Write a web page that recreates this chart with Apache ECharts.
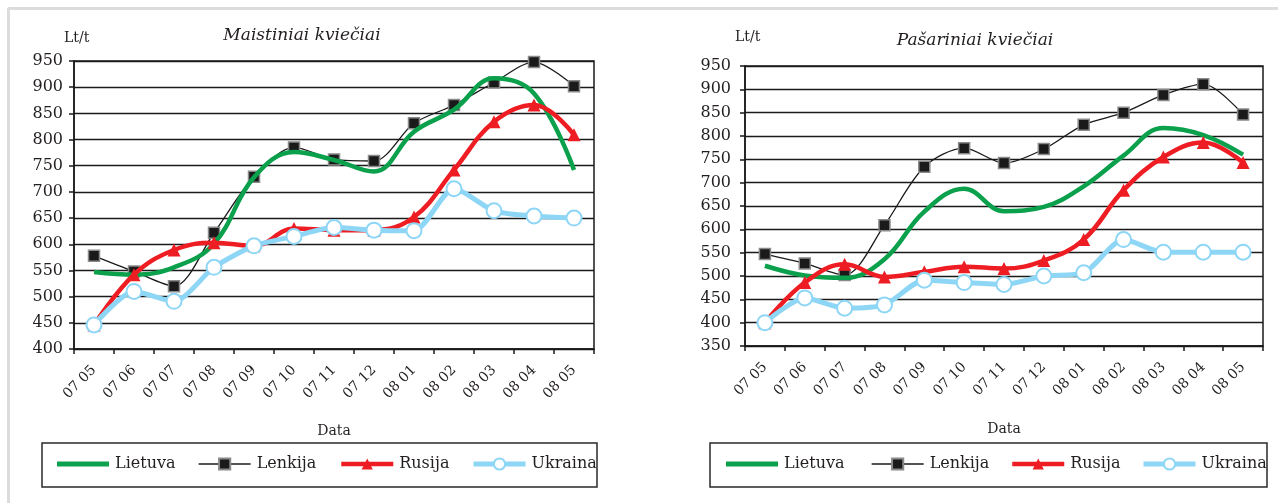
<!DOCTYPE html>
<html><head><meta charset="utf-8">
<script src="https://cdn.jsdelivr.net/npm/echarts@6/dist/echarts.min.js"></script>
<style>html,body{margin:0;padding:0;background:#fff;overflow:hidden}#c{width:1278px;height:503px}</style>
</head><body><div id="c"></div>
<script>
// ---- data ----
const categories = ['07 05','07 06','07 07','07 08','07 09','07 10','07 11','07 12','08 01','08 02','08 03','08 04','08 05'];
const seriesNames = ['Lietuva','Lenkija','Rusija','Ukraina'];
// Maistiniai kviečiai (left)
const lietuvaMaist = [547, 542, 556, 601, 728, 776, 761, 739, 815, 857, 917, 888, 742];
const lenkijaMaist = [578, 548, 520, 622, 729, 785, 762, 759, 831, 866, 909, 948, 902];
const rusijaMaist  = [446, 542, 589, 603, 597, 630, 627, 627, 652, 742, 834, 866, 809];
const ukrainaMaist = [446, 510, 491, 556, 597, 615, 632, 627, 626, 706, 664, 654, 650];
// Pašariniai kviečiai (right)
const lietuvaPasar = [522, 501, 496, 536, 638, 687, 639, 648, 692, 758, 817, 802, 760];
const lenkijaPasar = [547, 527, 502, 609, 734, 774, 742, 772, 824, 850, 888, 911, 846];
const rusijaPasar  = [400, 486, 525, 498, 509, 520, 516, 533, 578, 684, 755, 786, 743];
const ukrainaPasar = [400, 453, 431, 438, 491, 486, 482, 500, 507, 578, 551, 551, 551];
const titles = ['Maistiniai kviečiai', 'Pašariniai kviečiai'];
const unitLabel = 'Lt/t';
const axisTitle = 'Data';
const yRanges = [[400, 950, 50], [350, 950, 50]];

// ---- styles ----
const FONT = '"DejaVu Serif", "Liberation Serif", serif';
const TXT = '#231f20';
const GREEN = '#0aa04c', RED = '#ee1d23', BLUE = '#8ed6f6', BLACK = '#1a1a1a';
const lineWidths = [4.5, 1.3, 4.5, 5];

const chart = echarts.init(document.getElementById('c'), null, {renderer: 'canvas'});

const grids = [
  {left: 74, width: 520, top: 61, height: 288},
  {left: 745, width: 518, top: 66, height: 280}
];

function mkSeries(gi, data) {
  const [lt, lk, ru, uk] = data;
  return [
    {name: 'Lietuva', type: 'line', xAxisIndex: gi, yAxisIndex: gi, data: lt, smooth: 0.4,
     symbol: 'none', lineStyle: {color: GREEN, width: lineWidths[0]}, itemStyle: {color: GREEN}, z: 3},
    {name: 'Lenkija', type: 'line', xAxisIndex: gi, yAxisIndex: gi, data: lk, smooth: 0.3,
     symbol: 'rect', symbolSize: 11, showAllSymbol: true,
     lineStyle: {color: BLACK, width: lineWidths[1]}, itemStyle: {color: BLACK, borderColor: '#8a8a8a', borderWidth: 1.5}, z: 2},
    {name: 'Rusija', type: 'line', xAxisIndex: gi, yAxisIndex: gi, data: ru, smooth: 0.4,
     symbol: 'triangle', symbolSize: 13, showAllSymbol: true,
     lineStyle: {color: RED, width: lineWidths[2]}, itemStyle: {color: RED}, z: 4},
    {name: 'Ukraina', type: 'line', xAxisIndex: gi, yAxisIndex: gi, data: uk, smooth: 0.25,
     symbol: 'circle', symbolSize: 15, showAllSymbol: true,
     lineStyle: {color: BLUE, width: lineWidths[3]}, itemStyle: {color: '#ffffff', borderColor: BLUE, borderWidth: 2}, z: 5}
  ];
}

function mkX(gi) {
  return {
    type: 'category', gridIndex: gi, data: categories, boundaryGap: true,
    axisLine: {show: true, lineStyle: {color: '#1a1a1a', width: 1.5}},
    axisTick: {show: true, length: 5, inside: false, alignWithLabel: false, lineStyle: {color: '#1a1a1a', width: 1.5}},
    axisLabel: {interval: 0, rotate: 45, margin: 19,
      fontFamily: FONT, fontSize: 14, color: TXT},
    splitLine: {show: false}
  };
}
function mkY(gi) {
  const r = yRanges[gi];
  return {
    type: 'value', gridIndex: gi, min: r[0], max: r[1], interval: r[2],
    axisLine: {show: true, lineStyle: {color: '#1a1a1a', width: 1.5}},
    axisTick: {show: true, length: 5, inside: false, lineStyle: {color: '#1a1a1a', width: 1.5}},
    axisLabel: {margin: gi === 0 ? 11 : 14, fontFamily: FONT, fontSize: 16, color: TXT},
    splitLine: {show: true, lineStyle: {color: '#1a1a1a', width: 1.4}}
  };
}

const legendXs = [[57, 198, 339, 471], [726, 871, 1010, 1141]];
const legends = [];
legendXs.forEach(xs => xs.forEach((x, i) => {
  const item = i === 0 ? {name: seriesNames[i], icon: 'rect'} : {name: seriesNames[i]};
  legends.push({
    data: [item], left: x, top: 456, padding: 0, itemWidth: 52,
    itemHeight: i === 0 ? 5 : 14, itemGap: 0,
    selectedMode: false,
    lineStyle: {width: lineWidths[i]},
    textStyle: {fontFamily: FONT, fontSize: 16, color: TXT, padding: [0, 0, 0, 1]}
  });
}));

const graphic = [
  {type: 'rect', shape: {x: 1268, y: 10, width: 10, height: 493}, style: {fill: '#ffffff'}, silent: true, z: 100},
  {type: 'line', shape: {x1: 8, y1: 8.5, x2: 1278, y2: 8.5}, style: {stroke: '#dcdcdc', lineWidth: 3}, silent: true},
  {type: 'line', shape: {x1: 8.5, y1: 8, x2: 8.5, y2: 503}, style: {stroke: '#dcdcdc', lineWidth: 3}, silent: true},
  {type: 'rect', shape: {x: 42, y: 443, width: 555, height: 44}, style: {fill: 'none', stroke: '#2a2a2a', lineWidth: 1.5}, silent: true},
  {type: 'rect', shape: {x: 710, y: 443, width: 557, height: 44}, style: {fill: 'none', stroke: '#2a2a2a', lineWidth: 1.5}, silent: true, z: 101},
  {type: 'text', x: 302, y: 36, style: {text: titles[0], font: 'italic 17px ' + FONT, fill: TXT, align: 'center', verticalAlign: 'middle'}},
  {type: 'text', x: 975, y: 41, style: {text: titles[1], font: 'italic 17px ' + FONT, fill: TXT, align: 'center', verticalAlign: 'middle'}},
  {type: 'text', x: 64, y: 38, style: {text: unitLabel, font: '14px ' + FONT, fill: TXT, align: 'left', verticalAlign: 'middle'}},
  {type: 'text', x: 735, y: 37, style: {text: unitLabel, font: '14px ' + FONT, fill: TXT, align: 'left', verticalAlign: 'middle'}},
  {type: 'text', x: 334, y: 431, style: {text: axisTitle, font: '14px ' + FONT, fill: TXT, align: 'center', verticalAlign: 'middle'}},
  {type: 'text', x: 1004, y: 429, style: {text: axisTitle, font: '14px ' + FONT, fill: TXT, align: 'center', verticalAlign: 'middle'}}
];

chart.setOption({
  animation: false,
  backgroundColor: '#ffffff',
  grid: grids.map(g => Object.assign({show: true, borderColor: '#1a1a1a', borderWidth: 1.5, backgroundColor: 'transparent'}, g)),
  xAxis: [mkX(0), mkX(1)],
  yAxis: [mkY(0), mkY(1)],
  legend: legends,
  graphic: graphic,
  series: [
    ...mkSeries(0, [lietuvaMaist, lenkijaMaist, rusijaMaist, ukrainaMaist]),
    ...mkSeries(1, [lietuvaPasar, lenkijaPasar, rusijaPasar, ukrainaPasar])
  ]
});
</script></body></html>
